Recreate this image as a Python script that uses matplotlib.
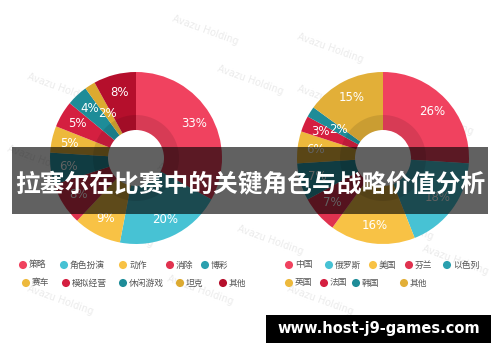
import numpy as np
import matplotlib
matplotlib.use('Agg')
import matplotlib.pyplot as plt
from matplotlib.patches import Rectangle, Wedge

# left donut: game genres
genres = ['策略', '角色扮演', '动作', '消除', '博彩', '赛车', '模拟经营', '休闲游戏', '坦克', '其他']
genre_pct = [33, 20, 9, 8, 6, 5, 5, 4, 2, 8]
genre_colors = ['#F0425F', '#47C2D4', '#F8C245', '#E0324F', '#2A9FAE',
                '#EDB93C', '#D41F40', '#1E8C98', '#DCAA30', '#B50F2C']

# right donut: countries
countries = ['中国', '俄罗斯', '美国', '芬兰', '以色列', '英国', '法国', '韩国', '其他']
country_pct = [26, 18, 16, 7, 7, 6, 3, 2, 15]
country_colors = ['#F0425F', '#47C2D4', '#F8C245', '#E0324F', '#2A9FAE',
                  '#EDB93C', '#D41F40', '#1E8C98', '#E2AF38']

title = '拉塞尔在比赛中的关键角色与战略价值分析'
site = 'www.host-j9-games.com'

W, H = 500, 362
fig = plt.figure(figsize=(W / 100, H / 100), dpi=100)
ax = fig.add_axes([0, 0, 1, 1])
ax.set_xlim(0, W)
ax.set_ylim(0, H)
ax.set_aspect('equal')
ax.axis('off')

def Y(y):
    return H - y

# faint watermarks
marks = [(60, 88), (205, 30), (250, 80), (40, 160), (120, 232), (190, 178),
         (330, 48), (330, 100), (440, 120), (455, 260), (400, 225), (270, 240),
         (60, 300), (320, 300), (200, 290)]
for mx, my in marks:
    ax.text(mx, Y(my), 'Avazu Holding', fontsize=7, color='#ebebeb',
            rotation=-20, ha='center', va='center', zorder=0)

R_OUT, R_IN = 86, 28

def donut(cx, cy, vals, colors):
    c = (cx, Y(cy))
    ax.pie(vals, colors=colors, startangle=90, counterclock=False, center=c,
           radius=R_OUT, wedgeprops=dict(width=R_OUT - R_IN, edgecolor='none'),
           frame=True)
    # darker band near the hole
    ax.add_patch(Wedge(c, 43, 0, 360, width=43 - R_IN, facecolor='black',
                       alpha=0.10, edgecolor='none', zorder=3))
    total = float(sum(vals))
    start = 0.0
    for v in vals:
        mid = (start + v / 2) / total * 2 * np.pi
        r = 0.61 * R_OUT if v <= 2 else 0.79 * R_OUT
        ax.text(c[0] + r * np.sin(mid), c[1] + r * np.cos(mid), f'{v}%',
                color='white', fontsize=8.5, ha='center', va='center', zorder=4)
        start += v

donut(136, 158, genre_pct, genre_colors)
donut(383, 158, country_pct, country_colors)
ax.set_xlim(0, W)
ax.set_ylim(0, H)
ax.set_aspect('equal')

# legends
left_pos = [(23, 265), (64, 265), (123, 265), (170, 265), (205, 265),
            (26, 283), (66, 283), (123, 283), (180, 283), (223, 283)]
right_pos = [(289, 265), (329, 265), (373, 265), (409, 265), (447, 265),
             (289, 283), (324, 283), (356, 283), (404, 283)]
for names, cols, pos in [(genres, genre_colors, left_pos),
                         (countries, country_colors, right_pos)]:
    for n, col, (lx, ly) in zip(names, cols, pos):
        ax.scatter(lx, Y(ly), s=34, color=col, edgecolor='none', zorder=4)
        ax.text(lx + 6, Y(ly), n, fontsize=6.3, color='#555555', va='center',
                ha='left', family=['Noto Sans CJK SC', 'DejaVu Sans'], zorder=4)

# title banner
ax.add_patch(Rectangle((12, Y(214)), 476, 67, facecolor='black', alpha=0.62,
                       edgecolor='none', zorder=5))
ax.text(250, Y(184), title, color='white', fontsize=17.8, fontweight='bold',
        ha='center', va='center', family=['Noto Sans CJK SC', 'DejaVu Sans'],
        zorder=6)

# site box
ax.add_patch(Rectangle((266, Y(343)), 225, 28, facecolor='black',
                       edgecolor='none', zorder=5))
ax.text(378.5, Y(329), site, color='white', fontsize=10.5, fontweight='bold',
        ha='center', va='center', zorder=6)

fig.savefig('out.png', dpi=100)
